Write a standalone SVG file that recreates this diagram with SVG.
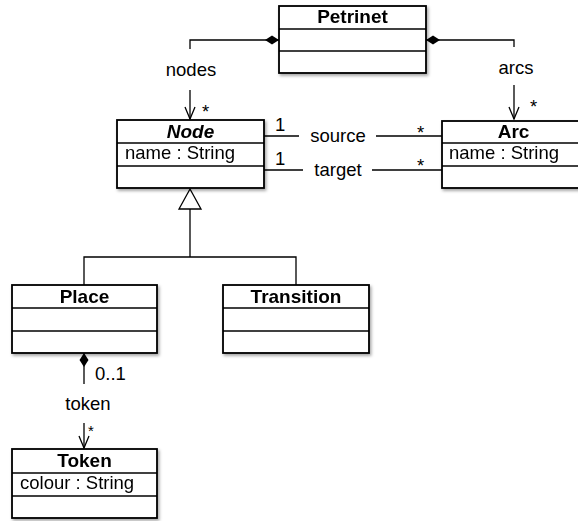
<svg xmlns="http://www.w3.org/2000/svg" width="578" height="521" viewBox="0 0 578 521">
  <defs>
    <filter id="shadow" x="-10%" y="-10%" width="130%" height="130%">
      <feDropShadow dx="1.5" dy="2" stdDeviation="1.5" flood-color="#000" flood-opacity="0.35"/>
    </filter>
    <marker id="open-arrow" viewBox="0 0 14 12" refX="13" refY="6" markerWidth="14" markerHeight="12" markerUnits="userSpaceOnUse" orient="auto">
      <path d="M1,1 L13,6 L1,11" fill="none" stroke="#000" stroke-width="1.3"/>
    </marker>
    <marker id="diamond" viewBox="0 0 16 10" refX="1" refY="5" markerWidth="16" markerHeight="10" markerUnits="userSpaceOnUse" orient="auto">
      <path d="M1,5 L8,0.5 L15,5 L8,9.5 Z" fill="#000"/>
    </marker>
  </defs>
  <style>
    .box { fill: #fff; stroke: #000; stroke-width: 1.8; }
    .sep { stroke: #000; stroke-width: 1.5; }
    .line { fill: none; stroke: #000; stroke-width: 1.3; }
    text { font-family: "Liberation Sans", Arial, Helvetica, sans-serif; font-size: 18.5px; fill: #000; }
    .title { font-weight: bold; font-size: 19px; text-anchor: middle; }
    .abstract { font-style: italic; }
    .mid { text-anchor: middle; }
  </style>

  <g id="connectors">
    <!-- Petrinet composes nodes -->
    <path class="line" d="M279,40 H190 V49" marker-start="url(#diamond)"/>
    <text class="mid" x="191" y="76">nodes</text>
    <path class="line" d="M190,90 V119" marker-end="url(#open-arrow)"/>
    <text x="202" y="118">*</text>

    <!-- Petrinet composes arcs -->
    <path class="line" d="M426,40 H514 V47" marker-start="url(#diamond)"/>
    <text class="mid" x="516" y="74">arcs</text>
    <path class="line" d="M514,85 V119" marker-end="url(#open-arrow)"/>
    <text x="530" y="113">*</text>

    <!-- Arc source / target -->
    <path class="line" d="M264,136 H299 M376,136 H442"/>
    <text class="mid" x="338" y="142">source</text>
    <text x="275" y="131">1</text>
    <text x="417" y="139">*</text>
    <path class="line" d="M264,170 H303 M372,170 H442"/>
    <text class="mid" x="338" y="176">target</text>
    <text x="275" y="165">1</text>
    <text x="417" y="172">*</text>

    <!-- generalization -->
    <path class="line" d="M190,209 V257 M84,285 V257 H296 V285"/>
    <path d="M190,189 L201,209 L179,209 Z" fill="#fff" stroke="#000" stroke-width="1.3"/>

    <!-- Place composes token -->
    <path class="line" d="M84,353 V384" marker-start="url(#diamond)"/>
    <text x="95" y="380">0..1</text>
    <text class="mid" x="88" y="410">token</text>
    <path class="line" d="M84,423 V448" marker-end="url(#open-arrow)"/>
    <text x="88" y="436" style="font-size:15px">*</text>
  </g>

  <g id="Petrinet" filter="url(#shadow)">
    <rect class="box" x="279" y="6" width="147" height="67"/>
    <line class="sep" x1="279" y1="29" x2="426" y2="29"/>
    <line class="sep" x1="279" y1="51" x2="426" y2="51"/>
    <text class="title" x="352.5" y="23">Petrinet</text>
  </g>

  <g id="Node" filter="url(#shadow)">
    <rect class="box" x="117" y="120" width="147" height="68"/>
    <line class="sep" x1="117" y1="143" x2="264" y2="143"/>
    <line class="sep" x1="117" y1="166" x2="264" y2="166"/>
    <text class="title abstract" x="190.5" y="138">Node</text>
    <text x="125" y="159">name : String</text>
  </g>

  <g id="Arc" filter="url(#shadow)">
    <rect class="box" x="442" y="121" width="143" height="67"/>
    <line class="sep" x1="442" y1="143" x2="585" y2="143"/>
    <line class="sep" x1="442" y1="166" x2="585" y2="166"/>
    <text class="title" x="513.5" y="138">Arc</text>
    <text x="449" y="159">name : String</text>
  </g>

  <g id="Place" filter="url(#shadow)">
    <rect class="box" x="12" y="285" width="145" height="68"/>
    <line class="sep" x1="12" y1="308" x2="157" y2="308"/>
    <line class="sep" x1="12" y1="331" x2="157" y2="331"/>
    <text class="title" x="84.5" y="303">Place</text>
  </g>

  <g id="Transition" filter="url(#shadow)">
    <rect class="box" x="223" y="285" width="146" height="68"/>
    <line class="sep" x1="223" y1="308" x2="369" y2="308"/>
    <line class="sep" x1="223" y1="331" x2="369" y2="331"/>
    <text class="title" x="296" y="303">Transition</text>
  </g>

  <g id="Token" filter="url(#shadow)">
    <rect class="box" x="12" y="449" width="145" height="69"/>
    <line class="sep" x1="12" y1="473" x2="157" y2="473"/>
    <line class="sep" x1="12" y1="496" x2="157" y2="496"/>
    <text class="title" x="84.5" y="467">Token</text>
    <text x="20" y="489">colour : String</text>
  </g>
</svg>
